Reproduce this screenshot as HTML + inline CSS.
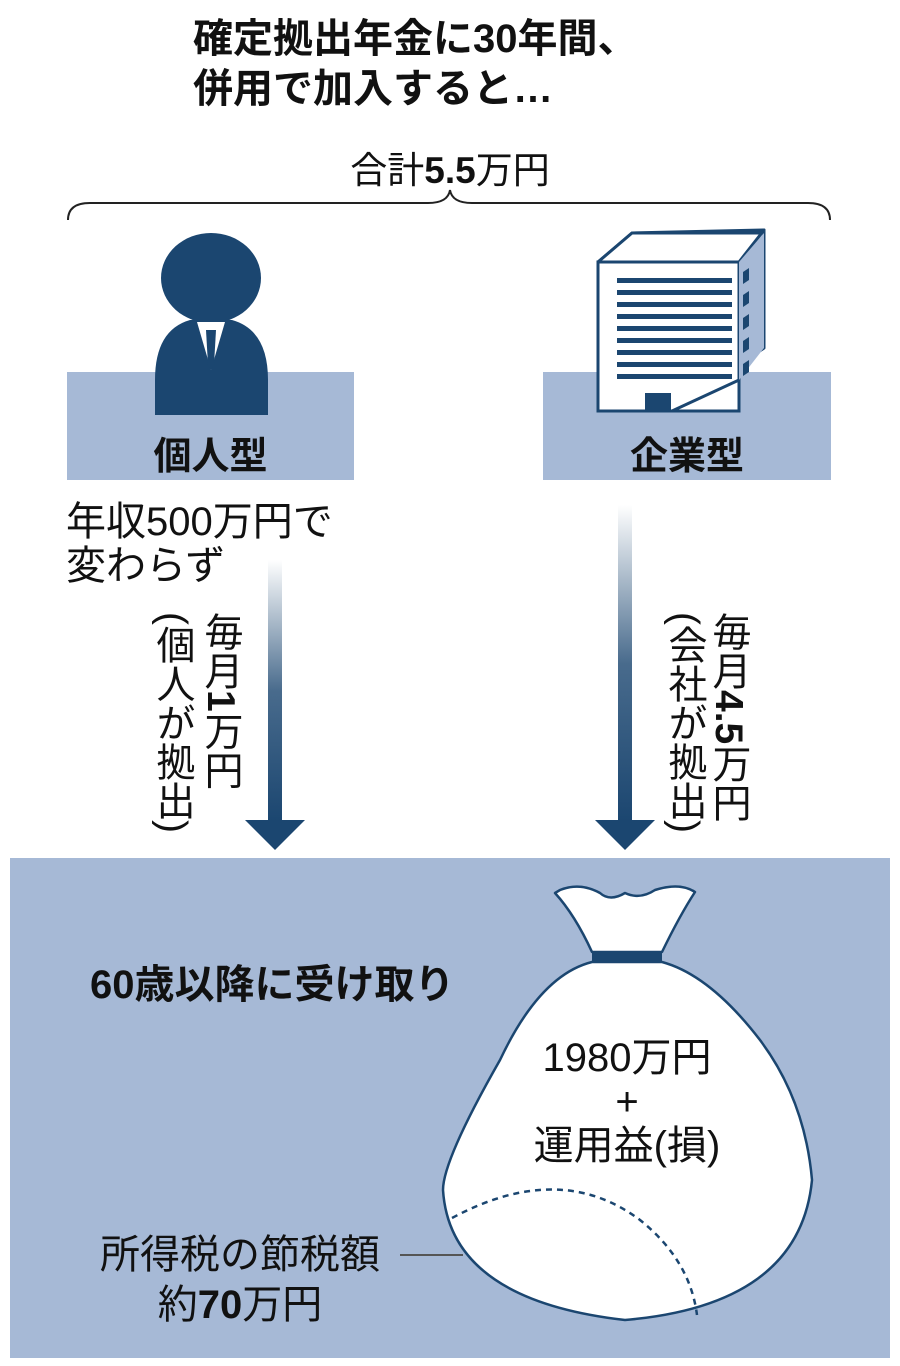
<!DOCTYPE html>
<html><head><meta charset="utf-8"><style>
body{margin:0;width:900px;height:1366px;background:#fff;position:relative;overflow:hidden;font-family:"Liberation Sans","Noto Sans CJK JP",sans-serif;color:#111}
.a{position:absolute;white-space:nowrap}
.v{writing-mode:vertical-rl;position:absolute;font-size:39px;line-height:44px}
</style></head><body>
<div class="a" style="left:193px;top:14px;font-size:40px;font-weight:bold;line-height:50px">確定拠出年金に30年間、<br>併用で加入すると…</div>
<div class="a" style="left:0;width:900px;text-align:center;top:140px;font-size:37px">合計<b>5.5</b>万円</div>
<svg class="a" style="left:0;top:0" width="900" height="1366">
<path d="M68 220 Q68 203 90 203 L428 203 Q448 203 450 190 Q452 203 472 203 L808 203 Q830 203 830 220" fill="none" stroke="#222" stroke-width="2"/>
<rect x="67" y="372" width="287" height="108" fill="#a6b9d6"/>
<rect x="543" y="372" width="288" height="108" fill="#a6b9d6"/>
<ellipse cx="211" cy="278" rx="50" ry="45" fill="#1b4670"/>
<path d="M155 415 L155 380 Q155 330 190 320 L232 320 Q268 330 268 380 L268 415 Z" fill="#1b4670"/>
<path d="M197 322 L211 370 L225 322 Z" fill="#fff"/>
<path d="M206 330 L216 330 L214 365 L211 370 L208 365Z" fill="#1b4670"/>
<path d="M632 233 L598 262 L598 411 L672 411 L764 348 L764 230 Z" fill="#a6b9d6" stroke="#1b4670" stroke-width="3" stroke-linejoin="round"/>
<path d="M598 262 L632 233 L764 233 L764 230 L739 262 Z" fill="#fff" stroke="#1b4670" stroke-width="3" stroke-linejoin="round"/>
<rect x="598" y="262" width="141" height="149" fill="#fff" stroke="#1b4670" stroke-width="3"/>
<path d="M739 262 L764 233 L764 348 L739 380 Z" fill="#a6b9d6"/>
<path d="M739 380 L672 411" stroke="#1b4670" stroke-width="3"/>
<g fill="#1b4670">
<rect x="617" y="278" width="115" height="5"/><rect x="617" y="290" width="115" height="5"/><rect x="617" y="302" width="115" height="5"/><rect x="617" y="314" width="115" height="5"/><rect x="617" y="326" width="115" height="5"/><rect x="617" y="338" width="115" height="5"/><rect x="617" y="350" width="115" height="5"/><rect x="617" y="362" width="115" height="5"/><rect x="617" y="374" width="115" height="5"/>
<path d="M743 272 L749 268 L749 280 L743 284Z"/><path d="M743 295 L749 291 L749 303 L743 307Z"/><path d="M743 318 L749 314 L749 326 L743 330Z"/><path d="M743 341 L749 337 L749 349 L743 353Z"/><path d="M743 364 L749 360 L749 372 L743 376Z"/>
<rect x="645" y="393" width="26" height="18"/>
</g>
<defs>
<linearGradient id="g" x1="0" y1="0" x2="0" y2="1"><stop offset="0" stop-color="#1b4670" stop-opacity="0"/><stop offset="0.5" stop-color="#1b4670" stop-opacity="0.8"/><stop offset="1" stop-color="#1b4670"/></linearGradient>
</defs>
<rect x="268" y="560" width="14" height="262" fill="url(#g)"/>
<path d="M245 820 L305 820 L275 850 Z" fill="#1b4670"/>
<rect x="618" y="505" width="14" height="317" fill="url(#g)"/>
<path d="M595 820 L655 820 L625 850 Z" fill="#1b4670"/>
<rect x="10" y="858" width="880" height="500" fill="#a6b9d6"/>
<path d="M560 890 Q580 882 600 893 Q610 902 625 893 Q640 900 655 890 Q680 882 695 892 Q680 915 662 952 L592 952 Q575 915 555 893 Z" fill="#fff" stroke="#1b4670" stroke-width="2.5" stroke-linejoin="round"/>
<path d="M592 962 Q540 975 500 1060 Q443 1160 443 1190 Q450 1300 625 1320 Q800 1305 812 1180 Q805 1100 760 1040 Q710 975 662 962 Z" fill="#fff" stroke="#1b4670" stroke-width="2.5"/>
<rect x="592" y="951" width="70" height="12" fill="#1b4670"/>
<path d="M452 1218 Q560 1160 640 1220 Q690 1260 697 1315" fill="none" stroke="#1b4670" stroke-width="2.5" stroke-dasharray="6 5"/>
<line x1="400" y1="1255" x2="463" y2="1255" stroke="#555" stroke-width="2"/>
</svg>
<div class="a" style="left:67px;top:436px;width:287px;text-align:center;font-size:38px;font-weight:bold;line-height:42px">個人型</div>
<div class="a" style="left:543px;top:436px;width:288px;text-align:center;font-size:38px;font-weight:bold;line-height:42px">企業型</div>
<div class="a" style="left:66px;top:500px;font-size:40px;line-height:44px">年収500万円で<br>変わらず</div>
<div class="v" style="left:198px;top:612px">毎月<b>1</b>万円</div>
<div class="v" style="left:150px;top:612px">(個人が拠出)</div>
<div class="v" style="left:706px;top:612px">毎月<b>4.5</b>万円</div>
<div class="v" style="left:662px;top:612px">(会社が拠出)</div>
<div class="a" style="left:90px;top:952px;font-size:40px;font-weight:bold">60歳以降に受け取り</div>
<div class="a" style="left:432px;top:1036px;width:390px;text-align:center;font-size:40px;line-height:44px">1980万円<br>+<br>運用益(損)</div>
<div class="a" style="left:100px;top:1230px;font-size:40px;line-height:50px;text-align:center">所得税の節税額<br>約<b>70</b>万円</div>
</body></html>
